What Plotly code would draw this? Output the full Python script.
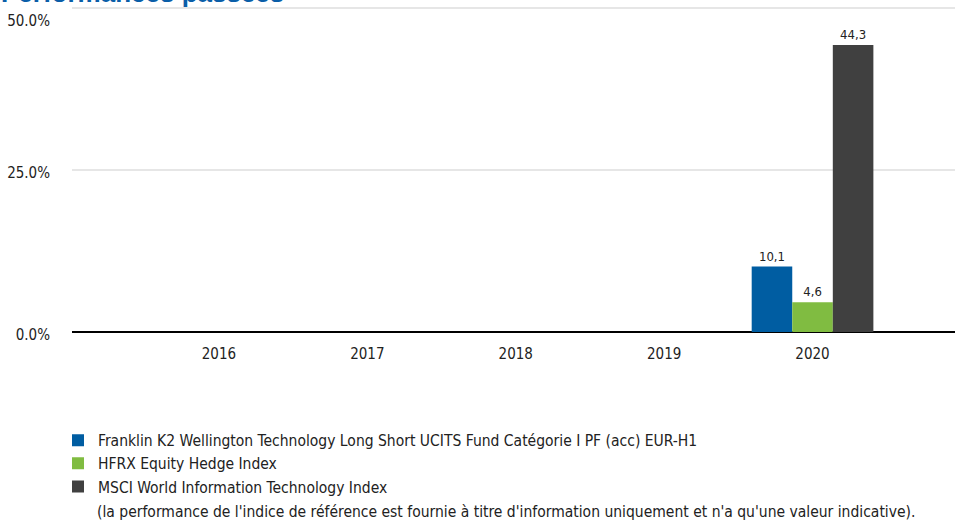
import plotly.graph_objects as go

years = ["2016", "2017", "2018", "2019", "2020"]
series_names = [
    "Franklin K2 Wellington Technology Long Short UCITS Fund Catégorie I PF (acc) EUR-H1",
    "HFRX Equity Hedge Index",
    "MSCI World Information Technology Index",
]
fund_values = [None, None, None, None, 10.1]
hfrx_values = [None, None, None, None, 4.6]
msci_values = [None, None, None, None, 44.3]
colors = ["#005DA2", "#80BC41", "#404040"]
y_tick_vals = [0, 25, 50]
y_tick_text = ["0.0%", "25.0%", "<br>50.0%"]

NARROW = "DejaVu Sans Condensed, Liberation Sans Narrow, sans-serif"


def fmt(v):
    return "" if v is None else f"{v:.1f}".replace(".", ",")


fig = go.Figure()
for name, vals, col in zip(series_names, [fund_values, hfrx_values, msci_values], colors):
    fig.add_trace(go.Bar(
        x=years, y=vals, name=name, marker=dict(color=col, line=dict(width=0)),
        text=[fmt(v) for v in vals], textposition="outside", cliponaxis=False,
        textfont=dict(family=NARROW, size=13, color="#222222"),
    ))

fig.update_layout(
    width=955, height=520,
    margin=dict(l=72, r=0, t=6, b=188, autoexpand=False),
    paper_bgcolor="white", plot_bgcolor="white",
    barmode="group", bargap=0.18, bargroupgap=0,
    showlegend=True,
    legend=dict(
        x=-14 / 883, xanchor="left", y=-0.281, yanchor="top",
        font=dict(family=NARROW, size=15.5, color="#222222"),
        traceorder="normal", bgcolor="rgba(0,0,0,0)",
    ),
    font=dict(family=NARROW, color="#222222"),
)
fig.update_xaxes(
    range=[-0.99, 4.96], showgrid=False, showline=False, ticks="", automargin=False,
    tickfont=dict(family=NARROW, size=15, color="#222222"),
    ticklabelstandoff=11,
)
fig.update_yaxes(
    range=[0, 50.3], tickvals=y_tick_vals, ticktext=y_tick_text, automargin=False,
    showgrid=True, gridcolor="#e6e6e6", gridwidth=1.5,
    zeroline=True, zerolinecolor="#000000", zerolinewidth=1.5,
    tickfont=dict(family=NARROW, size=15, color="#222222"),
    ticklabelstandoff=21, ticklabelshift=3, ticklabeloverflow="allow",
)
fig.add_annotation(
    text="<b>Performances passées</b>", xref="paper", yref="paper",
    x=0, xshift=-73, y=1, yanchor="bottom", yshift=-4, xanchor="left", showarrow=False,
    font=dict(family="Liberation Sans, Arial, sans-serif", size=26, color="#0A5EA8"),
)
fig.add_annotation(
    text="(la performance de l'indice de référence est fournie à titre d'information uniquement et n'a qu'une valeur indicative).",
    xref="paper", yref="paper", x=0, xshift=23, y=0, yshift=-180, xanchor="left", yanchor="middle",
    showarrow=False, font=dict(family=NARROW, size=15.5, color="#222222"),
)
fig.write_html(
    "out.html",
    config={"displayModeBar": False},
    post_script="document.body.style.margin='0';document.documentElement.style.overflow='hidden';",
)
